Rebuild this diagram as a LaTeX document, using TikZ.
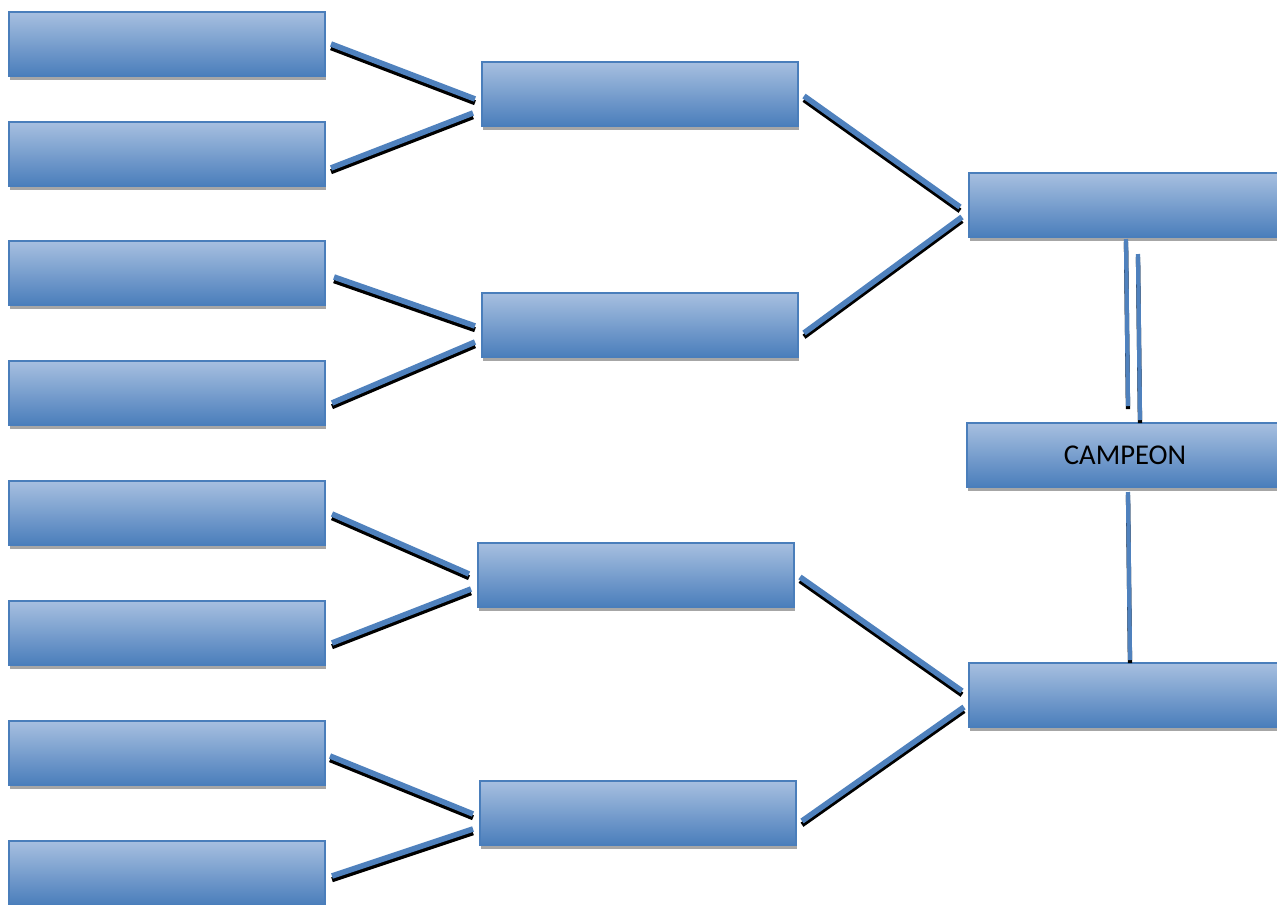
\documentclass[tikz,border=0pt]{standalone}
\usepackage{fontspec}
\setmainfont{Carlito}
\usetikzlibrary{calc,shadows}
\definecolor{boxtop}{RGB}{167,191,224}
\definecolor{boxbot}{RGB}{74,126,187}
\definecolor{boxline}{RGB}{74,126,187}
\definecolor{linkblue}{RGB}{79,129,189}
\definecolor{shadowgray}{RGB}{166,166,166}
\tikzset{
  team/.style={anchor=north west, minimum width=237pt, minimum height=48pt, inner sep=0pt,
    draw=boxline, line width=1.5pt, top color=boxtop, bottom color=boxbot,
    font=\fontsize{21.5}{24}\selectfont, text=black,
    drop shadow={shadow xshift=0.75pt, shadow yshift=-3pt, fill=shadowgray, opacity=1}},
  link/.style={draw=linkblue, line width=4.2pt,
    preaction={draw=black, line width=3.8pt, transform canvas={yshift=-2.8pt}}},
  vlink/.style={draw=linkblue, line width=3.2pt,
    preaction={draw=black, line width=3.2pt, transform canvas={yshift=-2.4pt}}}
}
\begin{document}
\begin{tikzpicture}[x=0.75pt,y=-0.75pt]
\clip (0,0) rectangle (1277,904);
\fill[white] (0,0) rectangle (1277,904);
% first round
\node[team] (l1) at (8,11) {};
\node[team] (l2) at (8,121) {};
\node[team] (l3) at (8,240) {};
\node[team] (l4) at (8,360) {};
\node[team] (l5) at (8,480) {};
\node[team] (l6) at (8,600) {};
\node[team] (l7) at (8,720) {};
\node[team] (l8) at (8,840) {};
% second round
\node[team] (m1) at (481,61) {};
\node[team] (m2) at (481,292) {};
\node[team] (m3) at (477,542) {};
\node[team] (m4) at (479,780) {};
% final
\node[team] (r1) at (968,172) {};
\node[team] (champ) at (966,422) {\raisebox{-2.6pt}{CAMPEON}};
\node[team] (r2) at (968,662) {};
% connectors
\draw[link] ([shift={(5,0)}]l1.east) -- ([shift={(-6,5)}]m1.west);
\draw[link] ([shift={(5,14)}]l2.east) -- ([shift={(-8,19)}]m1.west);
\draw[link] ([shift={(8,4)}]l3.east) -- ([shift={(-6,1)}]m2.west);
\draw[link] ([shift={(6,10)}]l4.east) -- ([shift={(-6,17)}]m2.west);
\draw[link] ([shift={(6,1)}]l5.east) -- ([shift={(-8,-1)}]m3.west);
\draw[link] ([shift={(6,10)}]l6.east) -- ([shift={(-6,14)}]m3.west);
\draw[link] ([shift={(4,3)}]l7.east) -- ([shift={(-6,1)}]m4.west);
\draw[link] ([shift={(6,3)}]l8.east) -- ([shift={(-6,16)}]m4.west);
\draw[link] ([shift={(5,2)}]m1.east) -- ([shift={(-8,2)}]r1.west);
\draw[link] ([shift={(5,8)}]m2.east) -- ([shift={(-6,12)}]r1.west);
\draw[link] ([shift={(5,2)}]m3.east) -- ([shift={(-6,-4)}]r2.west);
\draw[link] ([shift={(5,8)}]m4.east) -- ([shift={(-4,12)}]r2.west);
\draw[vlink] ([shift={(-1,1)}]r1.south) -- ([shift={(3,-16)}]champ.north);
\draw[vlink] ([shift={(11,16)}]r1.south) -- ([shift={(15,-2)}]champ.north);
\draw[vlink] ([shift={(3,4)}]champ.south) -- ([shift={(3,-2)}]r2.north);
\end{tikzpicture}
\end{document}
